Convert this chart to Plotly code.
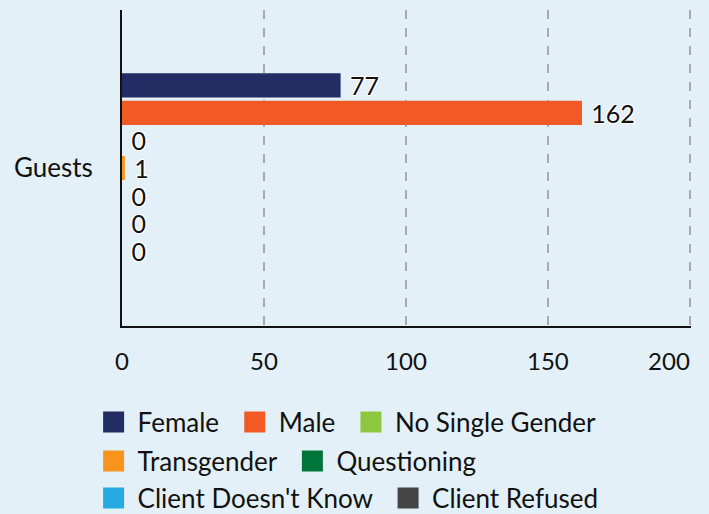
import plotly.graph_objects as go

categories = ["Guests"]
series_names = ["Female", "Male", "No Single Gender", "Transgender", "Questioning",
                "Client Doesn't Know", "Client Refused"]
series_values = [77, 162, 0, 1, 0, 0, 0]
series_colors = ["#222e63", "#f15a24", "#8dc63f", "#f7941d", "#00753a", "#27aae1", "#444444"]
x_ticks = [0, 50, 100, 150]
x_ticktext = ["0", "50", "100", "150"]
x_end_tick = [200]
x_end_ticktext = ["200"]
NB = "\u00a0"
legend_rows = [["Female", "Male", "No Single Gender"],
               ["Transgender", "Questioning"],
               ["Client Doesn't Know", "Client Refused"]]

FS = 24
outline = ("-1px -1px 0 #fff, 1px -1px 0 #fff, -1px 1px 0 #fff, 1px 1px 0 #fff, "
           "0 -1px 0 #fff, 0 1px 0 #fff, -1px 0 0 #fff, 1px 0 0 #fff")

fig = go.Figure()
for name, val, col in zip(series_names, series_values, series_colors):
    fig.add_trace(go.Bar(
        y=categories, x=[val], name=name, orientation="h",
        marker=dict(color=col, line=dict(width=0)),
        text=[NB + str(val)], textposition="outside", cliponaxis=False,
        constraintext="none",
        textfont=dict(family="Lato", size=25, color="#111", shadow=outline),
        showlegend=False, hoverinfo="skip",
    ))

# invisible helper so the overlaid axis carrying the last tick label is drawn
fig.add_trace(go.Scatter(x=[None], y=[None], xaxis="x2", mode="markers",
                         showlegend=False, hoverinfo="skip"))

legend_ids = ["legend", "legend2", "legend3"]
for ri, row in enumerate(legend_rows):
    for name in row:
        col = series_colors[series_names.index(name)]
        fig.add_trace(go.Scatter(
            x=[None], y=[None], mode="markers", name=name + NB,
            marker=dict(symbol="square", size=16, color=col, line=dict(color=col, width=5)),
            legend=legend_ids[ri], showlegend=True, hoverinfo="skip",
        ))

leg_common = dict(orientation="h", xanchor="left", yanchor="middle",
                  xref="container", yref="container", x=0.1264,
                  font=dict(family="Lato", size=26, color="#111"),
                  bgcolor="rgba(0,0,0,0)", itemwidth=38)

axis_common = dict(showgrid=True, gridcolor="#aaaaaa", griddash="dash", gridwidth=1.5,
                   zeroline=False, ticks="",
                   tickfont=dict(family="Lato", size=FS, color="#111"))

fig.update_layout(
    width=709, height=514,
    paper_bgcolor="#e3f0f7", plot_bgcolor="#e3f0f7",
    font=dict(family="Lato", size=FS, color="#111"),
    margin=dict(l=122, r=18, t=10, b=188, autoexpand=False),
    barmode="group", bargap=0.39, bargroupgap=0.12,
    legend=dict(**leg_common, y=0.179),
    legend2=dict(**leg_common, y=0.103),
    legend3=dict(**leg_common, y=0.031),
    xaxis=dict(range=[0, 200.4], tickvals=x_ticks, ticktext=x_ticktext,
               showline=True, linecolor="#111", linewidth=2,
               ticklabelstandoff=13, **axis_common),
    xaxis2=dict(range=[0, 200.4], overlaying="x", anchor="y", side="bottom",
                tickvals=x_end_tick, ticktext=x_end_ticktext,
                ticklabelposition="outside left", showline=False,
                ticklabelstandoff=19, **axis_common),
    yaxis=dict(autorange="reversed", showline=True, linecolor="#111", linewidth=2,
               ticks="", showgrid=False, ticklabelstandoff=22,
               tickfont=dict(family="Lato", size=26, color="#111")),
)
fig.write_html("out.html", config={"displayModeBar": False},
               post_script="document.body.style.margin='0';")
